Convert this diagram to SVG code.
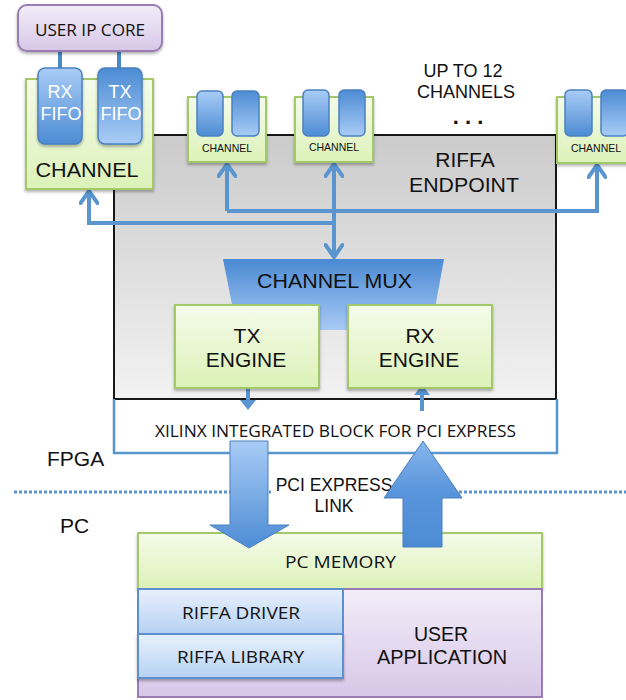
<svg xmlns="http://www.w3.org/2000/svg" width="626" height="700" viewBox="0 0 626 700">
<defs>
<linearGradient id="gGreen" x1="0" y1="0" x2="0" y2="1"><stop offset="0" stop-color="#f5fbea"/><stop offset="1" stop-color="#dcf2b8"/></linearGradient>
<linearGradient id="gPurple" x1="0" y1="0" x2="0" y2="1"><stop offset="0" stop-color="#f2edf8"/><stop offset="1" stop-color="#d8c7e8"/></linearGradient>
<linearGradient id="gLightBlue" x1="0" y1="0" x2="0" y2="1"><stop offset="0" stop-color="#e8f1fc"/><stop offset="1" stop-color="#b6d1f3"/></linearGradient>
<linearGradient id="gGray" x1="0" y1="0" x2="0" y2="1"><stop offset="0" stop-color="#cbcbcb"/><stop offset="1" stop-color="#f2f2f2"/></linearGradient>
<linearGradient id="gLD" x1="0" y1="0" x2="0" y2="1"><stop offset="0" stop-color="#a9ccf6"/><stop offset="1" stop-color="#4d8cd4"/></linearGradient>
<linearGradient id="gDL" x1="0" y1="0" x2="0" y2="1"><stop offset="0" stop-color="#4d8cd4"/><stop offset="1" stop-color="#a9ccf6"/></linearGradient>
<linearGradient id="gMux" x1="0" y1="0" x2="0" y2="1"><stop offset="0" stop-color="#4a89d3"/><stop offset="1" stop-color="#a8caf5"/></linearGradient>
<linearGradient id="gUp" x1="0" y1="0" x2="0" y2="1"><stop offset="0" stop-color="#86b5ec"/><stop offset="0.5" stop-color="#5894da"/><stop offset="1" stop-color="#4d8cd4"/></linearGradient>
<filter id="sh" x="-10%" y="-10%" width="130%" height="130%"><feDropShadow dx="0" dy="2" stdDeviation="1.5" flood-color="#000" flood-opacity="0.3"/></filter>
<marker id="chev" viewBox="0 0 18 20" markerWidth="18" markerHeight="20" refX="15" refY="10" orient="auto-start-reverse" markerUnits="userSpaceOnUse">
<path d="M3,1.5 L15,10 L3,18.5" fill="none" stroke="#5a95d0" stroke-width="4" stroke-linejoin="round" stroke-linecap="round"/>
</marker>
</defs>
<style>
.sans{font-family:"Liberation Sans",Arial,sans-serif;fill:#111;}
.cal{font-family:"Open Sans","Liberation Sans",sans-serif;fill:#111;}
.green{fill:url(#gGreen);stroke:#a3c869;stroke-width:2;}
.purple{fill:url(#gPurple);stroke:#9a7cb5;stroke-width:2;}
.lblue{fill:url(#gLightBlue);stroke:#5b8fcf;stroke-width:2;}
.fifoLD{fill:url(#gLD);stroke:#4a80c0;stroke-width:1.5;}
.fifoDL{fill:url(#gDL);stroke:#4a80c0;stroke-width:1.5;}
.conn{fill:none;stroke:#5a95d0;stroke-width:4;}
.big{stroke:#4a7fbf;stroke-width:1;}
.wt{font-family:"Liberation Sans",Arial,sans-serif;fill:#fff;}
</style>

<g id="riffa-endpoint">
<rect x="114" y="135" width="442" height="264" fill="url(#gGray)" stroke="#000" stroke-width="1.8"/>
<text class="sans" x="465" y="167" font-size="21" text-anchor="middle">RIFFA</text>
<text class="sans" x="464" y="192" font-size="21" text-anchor="middle" textLength="110" lengthAdjust="spacingAndGlyphs">ENDPOINT</text>
</g>

<g id="xilinx-block">
<path d="M114,399 L114,453 L557,453 L557,399" fill="none" stroke="#5a95d0" stroke-width="2.5"/>
<text class="cal" x="335.5" y="437" font-size="15.5" text-anchor="middle" textLength="361" lengthAdjust="spacingAndGlyphs">XILINX INTEGRATED BLOCK FOR PCI EXPRESS</text>
</g>

<g id="connectors">
<line x1="60" y1="51" x2="60" y2="68" stroke="#4a88c8" stroke-width="4"/>
<line x1="119" y1="51" x2="119" y2="68" stroke="#4a88c8" stroke-width="4"/>
<path class="conn" d="M334,223 L89,223 L89,191" marker-end="url(#chev)"/>
<path class="conn" d="M227,211 L597,211 L597,165" marker-end="url(#chev)"/>
<path class="conn" d="M227,211 L227,164" marker-end="url(#chev)"/>
<path class="conn" d="M334,164 L334,257" marker-start="url(#chev)" marker-end="url(#chev)"/>
<line x1="248" y1="388" x2="248" y2="401" stroke="#5a95d0" stroke-width="4"/>
<polygon points="240,400 256,400 248,410" fill="#5a95d0"/>
<line x1="422" y1="394" x2="422" y2="411" stroke="#5a95d0" stroke-width="4"/>
<polygon points="414,395 430,395 422,385" fill="#5a95d0"/>
</g>

<g id="user-ip-core">
<rect x="18" y="5" width="144" height="46" rx="9" class="purple" filter="url(#sh)"/>
<text class="cal" x="90" y="36" font-size="16" text-anchor="middle" textLength="110" lengthAdjust="spacingAndGlyphs">USER IP CORE</text>
</g>

<g id="channel-main">
<rect x="26" y="79" width="127" height="110" class="green" filter="url(#sh)"/>
<rect x="38" y="68" width="44" height="76" rx="7" class="fifoLD" filter="url(#sh)"/>
<rect x="98" y="68" width="44" height="76" rx="7" class="fifoDL" filter="url(#sh)"/>
<text class="wt" x="60" y="98" font-size="18" text-anchor="middle">RX</text>
<text class="wt" x="61" y="120" font-size="18" text-anchor="middle">FIFO</text>
<text class="wt" x="120" y="98" font-size="18" text-anchor="middle">TX</text>
<text class="wt" x="121" y="120" font-size="18" text-anchor="middle">FIFO</text>
<text class="sans" x="87" y="177" font-size="20" text-anchor="middle" textLength="103" lengthAdjust="spacingAndGlyphs">CHANNEL</text>
</g>

<g id="channel-2">
<rect x="188" y="97" width="78" height="65" class="green" filter="url(#sh)"/>
<rect x="197" y="91" width="26" height="45" rx="5" class="fifoLD"/>
<rect x="232" y="91" width="27" height="45" rx="5" class="fifoDL"/>
<text class="sans" x="227" y="152" font-size="10.5" text-anchor="middle">CHANNEL</text>
</g>

<g id="channel-3">
<rect x="295" y="97" width="78" height="65" class="green" filter="url(#sh)"/>
<rect x="303" y="90" width="26" height="46" rx="5" class="fifoLD"/>
<rect x="339" y="90" width="26" height="46" rx="5" class="fifoDL"/>
<text class="sans" x="334" y="151" font-size="10.5" text-anchor="middle">CHANNEL</text>
</g>

<g id="channel-12">
<rect x="557" y="97" width="78" height="66" class="green" filter="url(#sh)"/>
<rect x="565" y="90" width="27" height="46" rx="5" class="fifoLD"/>
<rect x="601" y="90" width="27" height="46" rx="5" class="fifoDL"/>
<text class="sans" x="596" y="152" font-size="10.5" text-anchor="middle">CHANNEL</text>
</g>

<g id="up-to-12">
<text class="sans" x="463" y="77" font-size="18" text-anchor="middle">UP TO 12</text>
<text class="sans" x="466" y="98" font-size="18" text-anchor="middle">CHANNELS</text>
<text class="sans" x="468" y="124" font-size="22" font-weight="bold" text-anchor="middle">. . .</text>
</g>

<g id="channel-mux">
<polygon points="223,259 444,259 431,330 237,330" fill="url(#gMux)"/>
<text class="sans" x="334.5" y="288" font-size="20.5" text-anchor="middle" textLength="155" lengthAdjust="spacingAndGlyphs">CHANNEL MUX</text>
</g>

<g id="tx-engine">
<rect x="175" y="305" width="144" height="83" class="green" filter="url(#sh)"/>
<text class="sans" x="247" y="343" font-size="21" text-anchor="middle">TX</text>
<text class="sans" x="246" y="367" font-size="21" text-anchor="middle">ENGINE</text>
</g>

<g id="rx-engine">
<rect x="348" y="305" width="144" height="83" class="green" filter="url(#sh)"/>
<text class="sans" x="420" y="343" font-size="21" text-anchor="middle">RX</text>
<text class="sans" x="419" y="367" font-size="21" text-anchor="middle">ENGINE</text>
</g>

<g id="boundary">
<line x1="14" y1="492" x2="626" y2="492" stroke="#5a95d0" stroke-width="3" stroke-dasharray="3,2"/>
<text class="sans" x="47" y="466" font-size="21">FPGA</text>
<text class="sans" x="60" y="533" font-size="21">PC</text>
</g>

<g id="pci-link">
<rect x="271" y="475" width="124" height="24" fill="#fff"/>
<text class="sans" x="334" y="491" font-size="17.5" text-anchor="middle">PCI EXPRESS</text>
<text class="sans" x="334" y="512" font-size="17.5" text-anchor="middle">LINK</text>
</g>

<g id="pc-memory">
<rect x="138" y="533" width="404" height="56" class="green" filter="url(#sh)"/>
<text class="cal" x="340.5" y="568" font-size="17" text-anchor="middle" textLength="111" lengthAdjust="spacingAndGlyphs">PC MEMORY</text>
</g>

<g id="user-application">
<rect x="138" y="589" width="404" height="108" class="purple"/>
<text class="sans" x="441" y="641" font-size="19.5" text-anchor="middle">USER</text>
<text class="sans" x="442" y="664" font-size="19.5" text-anchor="middle" textLength="130" lengthAdjust="spacingAndGlyphs">APPLICATION</text>
</g>

<g id="riffa-driver">
<rect x="138" y="589" width="205" height="45" class="lblue"/>
<text class="cal" x="241" y="619" font-size="17" text-anchor="middle" textLength="118" lengthAdjust="spacingAndGlyphs">RIFFA DRIVER</text>
</g>

<g id="riffa-library">
<rect x="138" y="634" width="205" height="44" class="lblue" filter="url(#sh)"/>
<text class="cal" x="240.5" y="663" font-size="17" text-anchor="middle" textLength="127" lengthAdjust="spacingAndGlyphs">RIFFA LIBRARY</text>
</g>

<g id="pcie-arrows">
<polygon class="big" points="230,441 268,441 268,525 289,525 249,548 210,525 230,525" fill="url(#gLD)"/>
<polygon class="big" points="423,441 462,498 442,498 442,547 403,547 403,498 384,498" fill="url(#gUp)"/>
</g>
</svg>
